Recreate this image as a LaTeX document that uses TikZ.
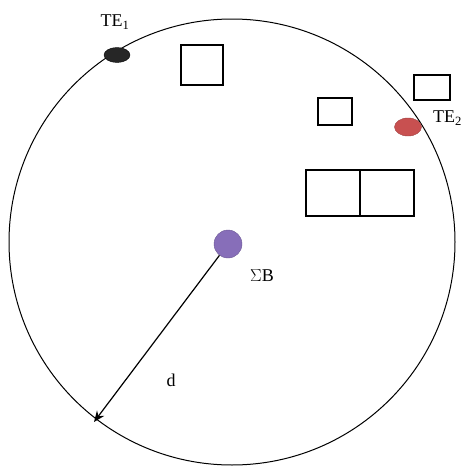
\documentclass[tikz,border=0pt]{standalone}
\usepackage{fontspec}
\setmainfont{Liberation Serif}
\usetikzlibrary{shapes.geometric,arrows.meta}
\definecolor{purp}{RGB}{135,110,185}
\definecolor{redd}{RGB}{200,80,80}
\begin{document}
\begin{tikzpicture}[x=1pt,y=-1pt,
  box/.style={draw,line width=1.1pt},
  lbl/.style={inner sep=0pt,font=\fontsize{18}{20}\selectfont}]
\useasboundingbox (0,0) rectangle (465,469);
\node[draw,circle,line width=1pt,minimum size=446pt,inner sep=0pt] (C) at (232,242) {};
\draw[box] (181,45) rectangle (223,85);
\draw[box] (318,98) rectangle (352,125);
\draw[box] (414,75) rectangle (450,100);
\draw[box] (306,170) rectangle (414,216);
\draw[box] (360,170) -- (360,216);
\node[draw=black,fill=black!85,ellipse,minimum width=26pt,minimum height=15pt,inner sep=0pt] (TE1) at (117,55) {};
\node[draw=redd!80!black,fill=redd,ellipse,minimum width=27pt,minimum height=18pt,inner sep=0pt] (TE2) at (408,127) {};
\node[draw=purp!80!black,fill=purp,circle,minimum size=28pt,inner sep=0pt] (B) at (228,244) {};
\node[lbl] (L1) at (115,22) {TE\textsubscript{1}};
\node[lbl,anchor=west] (L2) at (433,118) {TE\textsubscript{2}};
\node[lbl] (LB) at (262,276) {$\Sigma$B};
\node[lbl] (Ld) at (171,380) {d};
\coordinate (E) at (94,422);
\draw[line width=1.2pt,-{Stealth[length=11pt,width=9pt]}] (B) -- (E);
\end{tikzpicture}
\end{document}
